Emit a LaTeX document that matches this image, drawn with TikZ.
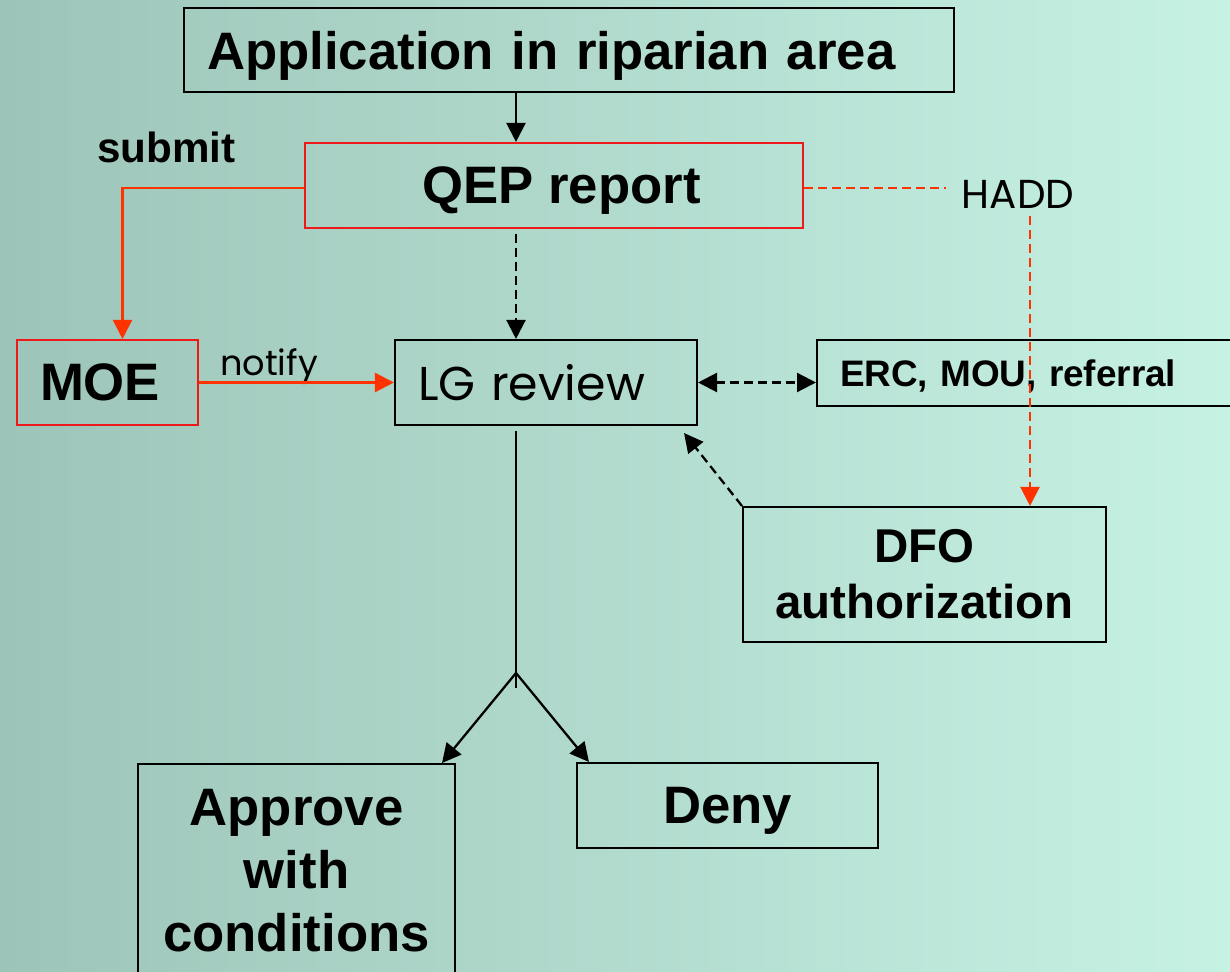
\documentclass[tikz,border=0pt]{standalone}
\usepackage{fontspec}
\setmainfont{Liberation Sans}
\newfontfamily\geofont{Poppins}
\usetikzlibrary{arrows.meta}
\definecolor{bgleft}{RGB}{157,196,184}
\definecolor{bgright}{RGB}{198,242,228}
\definecolor{qepred}{RGB}{255,51,0}
\definecolor{boxred}{RGB}{240,25,25}

\begin{document}
\begin{tikzpicture}[x=0.02cm, y=-0.02cm,
  >={Triangle[length=0.38cm,width=0.38cm]},
  box/.style={draw, line width=1.2pt, inner sep=0pt, font=\fontsize{30}{36}\selectfont\bfseries},
  oneline/.style={text depth=0pt},
  lbox/.style={box, oneline, align=left, inner xsep=0.46cm},
  redbox/.style={draw=boxred},
  wire/.style={line width=1.3pt},
  redwire/.style={wire, color=qepred},
  dashy/.style={dash pattern=on 0.18cm off 0.1cm}]
\useasboundingbox (0,0) rectangle (1230,972);
\clip (0,0) rectangle (1230,972);
\shade[left color=bgleft, right color=bgright] (0,0) rectangle (1230,972);

% boxes
\node [lbox, text width=14.48cm, minimum height=1.68cm] (app) at (569,50) {Application in riparian area};
\node [box, oneline, redbox, minimum width=9.96cm, minimum height=1.7cm] (qep) at (554,185.5) {\hspace{0.3cm}QEP report};
\node [lbox, redbox, text width=2.7cm, minimum height=1.7cm] (moe) at (107.5,382.5) {MOE};
\node [lbox, text width=5.12cm, minimum height=1.7cm, font=\geofont\fontsize{27}{32}\selectfont] (lg) at (546,382.5) {LG review};
\node [lbox, text width=7.74cm, minimum height=1.32cm, font=\fontsize{21}{25}\selectfont\bfseries] (erc) at (1033.5,373) {ERC, MOU, referral};
\node [box, align=center, minimum width=7.26cm, minimum height=2.7cm, font=\fontsize{27}{32}\selectfont\bfseries] (dfo) at (924.5,574.5) {DFO\\authorization};
\node [box, align=center, text width=5.94cm, inner xsep=0.2cm, inner ysep=0.5cm, anchor=north] (approve) at (296.5,763) {Approve\\with\\conditions};
\node [box, oneline, minimum width=6.02cm, minimum height=1.7cm] (deny) at (727.5,805.5) {Deny};

% labels
\node [font=\geofont\fontsize{23}{28}\selectfont, inner xsep=0.3cm, inner ysep=0.16cm] (hadd) at (1018,194) {HADD};
\node [font=\fontsize{24}{29}\selectfont\bfseries, anchor=base] (submit) at (166.5,163) {submit};
\node [font=\geofont\fontsize{20}{24}\selectfont, anchor=base] (notify) at (269,376) {notify};

\coordinate (spine) at (516,0);
\coordinate (fork) at (516,673);
\coordinate (forkend) at (516,688);

% connectors
\draw [wire, ->] (app.south -| spine) -- (qep.north -| spine);
\draw [wire, dashy, ->, shorten <=0.1cm] (qep.south -| spine) -- (lg.north -| spine);
\draw [redwire, ->] ([yshift=-0.05cm]qep.west) -| ([xshift=0.3cm]moe.north);
\draw [redwire, ->] (moe.east) -- (lg.west);
\draw [redwire, dashy] ([yshift=-0.05cm]qep.east) -- ([yshift=-0.05cm]qep.east -| hadd.west);
\draw [redwire, dashy, ->] ([xshift=0.24cm]hadd.south) -- ([xshift=0.24cm]hadd.south |- dfo.north);
\draw [wire, dashy, <->] (lg.east) -- (lg.east -| erc.west);
\draw [wire, dashy, ->] (dfo.north west) -- ([xshift=-0.28cm,yshift=-0.14cm]lg.south east);
\draw [wire, shorten <=0.1cm] (lg.south -| spine) -- (forkend);
\draw [wire, ->] (fork) -- ([xshift=-0.28cm]approve.north east);
\draw [wire, ->] (fork) -- ([xshift=0.26cm]deny.north west);
\end{tikzpicture}
\end{document}
